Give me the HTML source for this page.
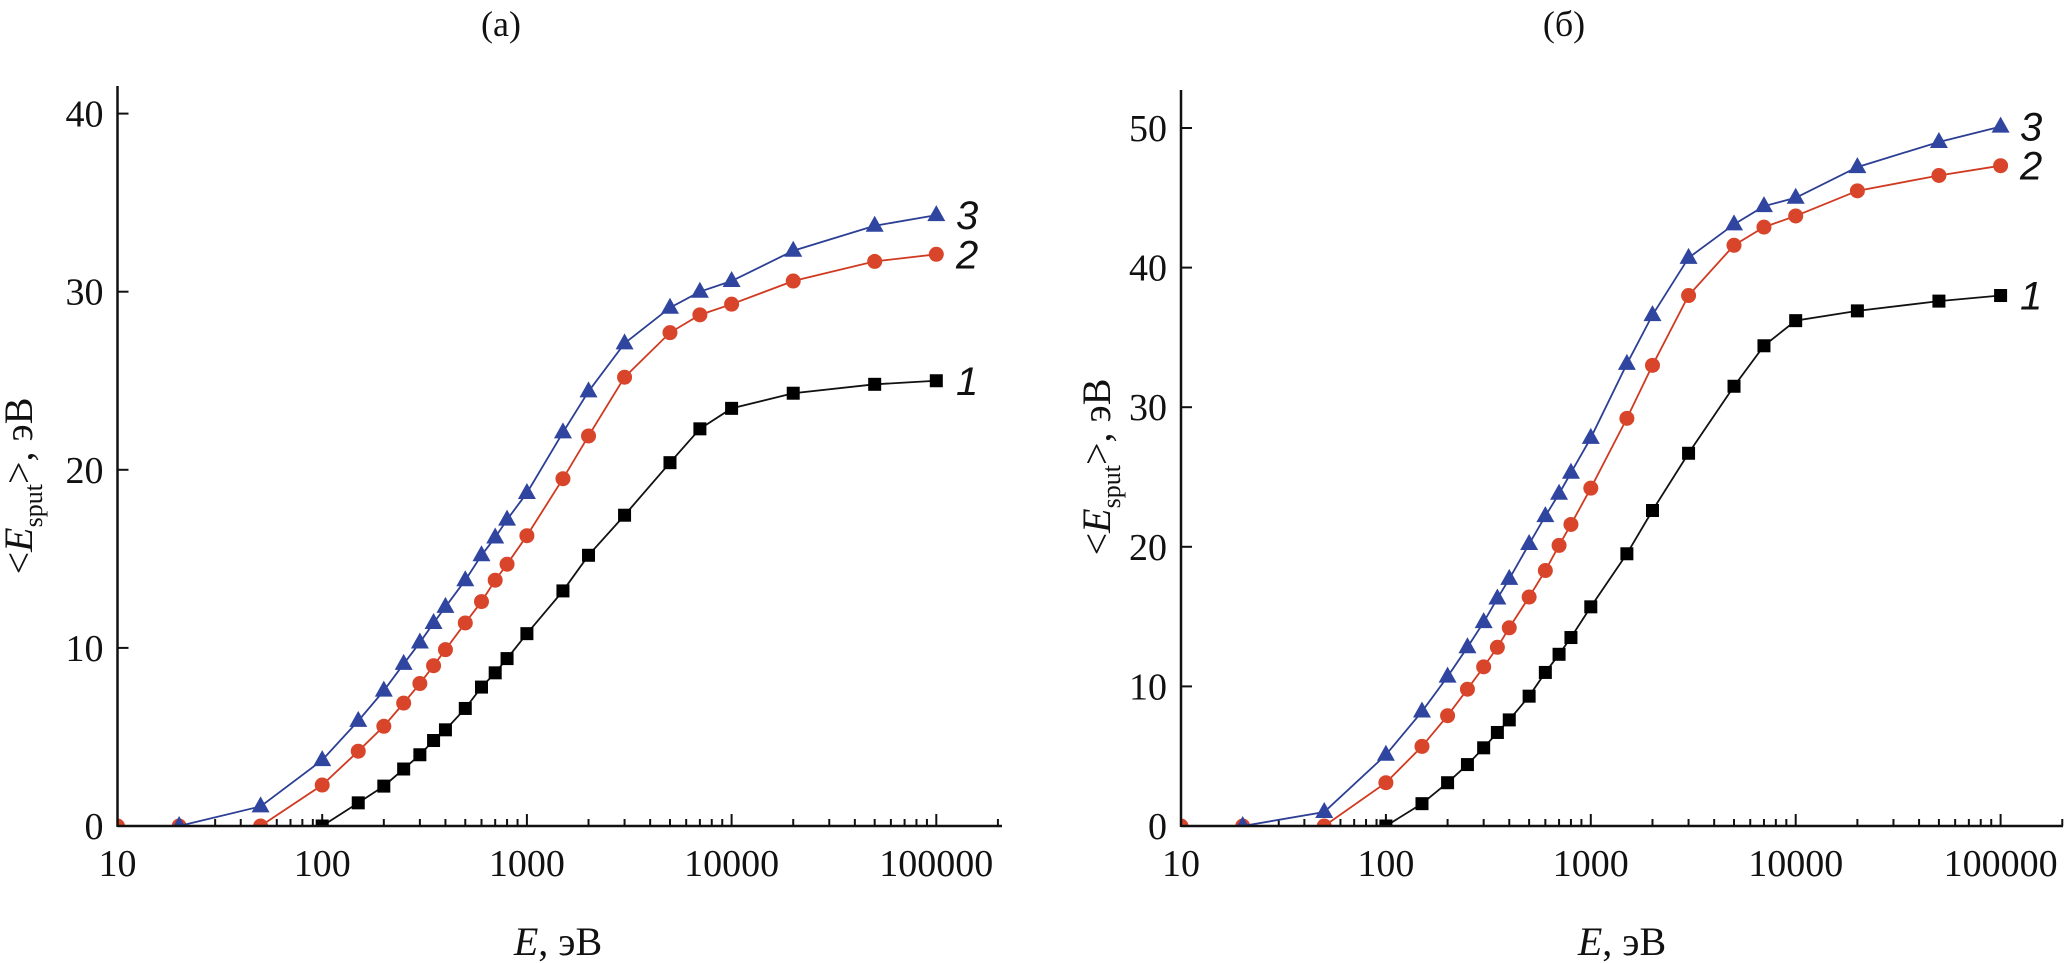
<!DOCTYPE html>
<html><head><meta charset="utf-8"><style>
html,body{margin:0;padding:0;background:#fff;}
svg{display:block;}
text{font-family:"Liberation Serif",serif;fill:#111;}
</style></head><body>
<svg id="chart" width="2067" height="963" viewBox="0 0 2067 963" xmlns="http://www.w3.org/2000/svg"></svg>
<script>
const energies = [10,20,50,100,150,200,250,300,350,400,500,600,700,800,1000,1500,2000,3000,5000,7000,10000,20000,50000,100000];
// panel (a)
const a1 = [null,null,null,0,1.3,2.24,3.2,4.0,4.8,5.4,6.6,7.8,8.6,9.4,10.8,13.2,15.2,17.45,20.4,22.3,23.45,24.3,24.8,25.0];
const a2 = [0,0,0,2.3,4.2,5.6,6.9,8.0,9.0,9.9,11.4,12.6,13.8,14.7,16.3,19.5,21.9,25.2,27.7,28.7,29.3,30.6,31.7,32.1];
const a3 = [null,0,1.1,3.7,5.9,7.6,9.1,10.3,11.4,12.3,13.8,15.2,16.2,17.2,18.7,22.1,24.4,27.1,29.1,30.0,30.6,32.3,33.7,34.3];
// panel (б)
const b1 = [null,null,null,0,1.6,3.1,4.4,5.6,6.7,7.6,9.3,11.0,12.3,13.5,15.7,19.5,22.6,26.7,31.5,34.4,36.2,36.9,37.6,38.0];
const b2 = [0,0,0,3.1,5.7,7.9,9.8,11.4,12.8,14.2,16.4,18.3,20.1,21.6,24.2,29.2,33.0,38.0,41.6,42.9,43.7,45.5,46.6,47.3];
const b3 = [null,0,1.0,5.1,8.2,10.7,12.8,14.6,16.3,17.7,20.2,22.2,23.8,25.3,27.8,33.1,36.6,40.7,43.1,44.4,45.0,47.2,49.0,50.1];
const xTicks = [10,100,1000,10000,100000];
const aYTicks = [0,10,20,30,40];
const bYTicks = [0,10,20,30,40,50];

const NS="http://www.w3.org/2000/svg";
const svg=document.getElementById('chart');
function mk(tag,attrs,parent){const e=document.createElementNS(NS,tag);for(const k in attrs)e.setAttribute(k,attrs[k]);(parent||svg).appendChild(e);return e;}

function panel(cfg){
  const g=mk('g',{});
  
  
  const X=v=>cfg.x0+Math.log10(v/10)*cfg.dec;
  const Y=v=>cfg.y0-v*cfg.unit;
  const cp=mk('clipPath',{id:'clip-'+cfg.name},g);
  mk('rect',{x:cfg.x0,y:0,width:cfg.xEnd-cfg.x0,height:cfg.y0},cp);
  // x ticks
  for(let d=10;d<=100000;d*=10){
    for(let m=1;m<=9;m++){
      const v=d*m; const px=X(v); if(px>cfg.xEnd)break;
      const len=m===1?12:7;
      mk('line',{x1:px,y1:cfg.y0,x2:px,y2:cfg.y0-len,stroke:'#111','stroke-width':2},g);
    }
  }
  xTicks.forEach(t=>{
    const tx=mk('text',{x:X(t),y:cfg.y0+50,'text-anchor':'middle','font-size':38},g);
    tx.textContent=t;
    
  });
  cfg.yTicks.forEach(t=>{
    mk('line',{x1:cfg.x0,y1:Y(t),x2:cfg.x0+11,y2:Y(t),stroke:'#111','stroke-width':2},g);
    const tx=mk('text',{x:cfg.x0-14,y:Y(t)+13,'text-anchor':'end','font-size':38},g);
    tx.textContent=t;
    
  });
  // title
  const ti=mk('text',{x:cfg.titleX,y:36,'text-anchor':'middle','font-size':36},g);
  ti.textContent=cfg.title;
  
  // x label
  const xl=mk('text',{x:cfg.xlabX,y:955,'text-anchor':'middle','font-size':40},g);
  xl.innerHTML='<tspan font-style="italic">E</tspan>, эВ';
  
  // y label
  const yl=mk('text',{x:0,y:0,'text-anchor':'middle','font-size':40,transform:`translate(${cfg.ylabX},${cfg.ylabY}) rotate(-90)`},g);
  yl.innerHTML='&lt;<tspan font-style="italic">E</tspan><tspan font-size="26" dy="10">sput</tspan><tspan dy="-10">&gt;, эВ</tspan>';
  
  // series
  const sg=mk('g',{'clip-path':`url(#clip-${cfg.name})`},g);
  cfg.series.forEach(s=>{
    const pts=[];
    s.vals.forEach((v,i)=>{if(v!==null)pts.push([X(energies[i]),Y(v)]);});
    const pl=mk('polyline',{points:pts.map(p=>p.join(',')).join(' '),fill:'none',stroke:s.color,'stroke-width':1.8},sg);
    
    pts.forEach(p=>{
      let m;
      if(s.shape==='sq') m=mk('rect',{x:p[0]-6.5,y:p[1]-6.5,width:13,height:13,fill:s.fill},sg);
      else if(s.shape==='ci') m=mk('circle',{cx:p[0],cy:p[1],r:7.5,fill:s.fill},sg);
      else m=mk('polygon',{points:`${p[0]},${p[1]-10} ${p[0]-9},${p[1]+6} ${p[0]+9},${p[1]+6}`,fill:s.fill},sg);
      
    });
    const last=pts[pts.length-1];
    const lb=mk('text',{x:cfg.lblX,y:last[1]+14,'font-size':40,'font-style':'italic',style:'font-family:"Liberation Sans",sans-serif'},g);
    lb.textContent=s.id;
    
  });
  // axes
  const ya=mk('line',{x1:cfg.x0,y1:cfg.top,x2:cfg.x0,y2:cfg.y0+1,stroke:'#111','stroke-width':2.5},g);
  
  const xa=mk('line',{x1:cfg.x0,y1:cfg.y0,x2:cfg.xEnd,y2:cfg.y0,stroke:'#111','stroke-width':2.5},g);
  
}
const ser=(v1,v2,v3)=>[
  {id:'1',vals:v1,color:'#111',fill:'#000',shape:'sq'},
  {id:'2',vals:v2,color:'#d03a20',fill:'#d8452a',shape:'ci'},
  {id:'3',vals:v3,color:'#2c3f94',fill:'#2f45a0',shape:'tr'}];
panel({name:'panel-a',x0:117.5,dec:204.7,xEnd:1002,y0:826,unit:17.81,top:86,yTicks:aYTicks,title:'(a)',titleX:501,xlabX:558,ylabX:32,ylabY:486,lblX:956,series:ser(a1,a2,a3)});
panel({name:'panel-b',x0:1181,dec:204.9,xEnd:2063,y0:826,unit:13.96,top:90,yTicks:bYTicks,title:'(б)',titleX:1564,xlabX:1622,ylabX:1110,ylabY:467,lblX:2020,series:ser(b1,b2,b3)});
</script>
</body></html>
